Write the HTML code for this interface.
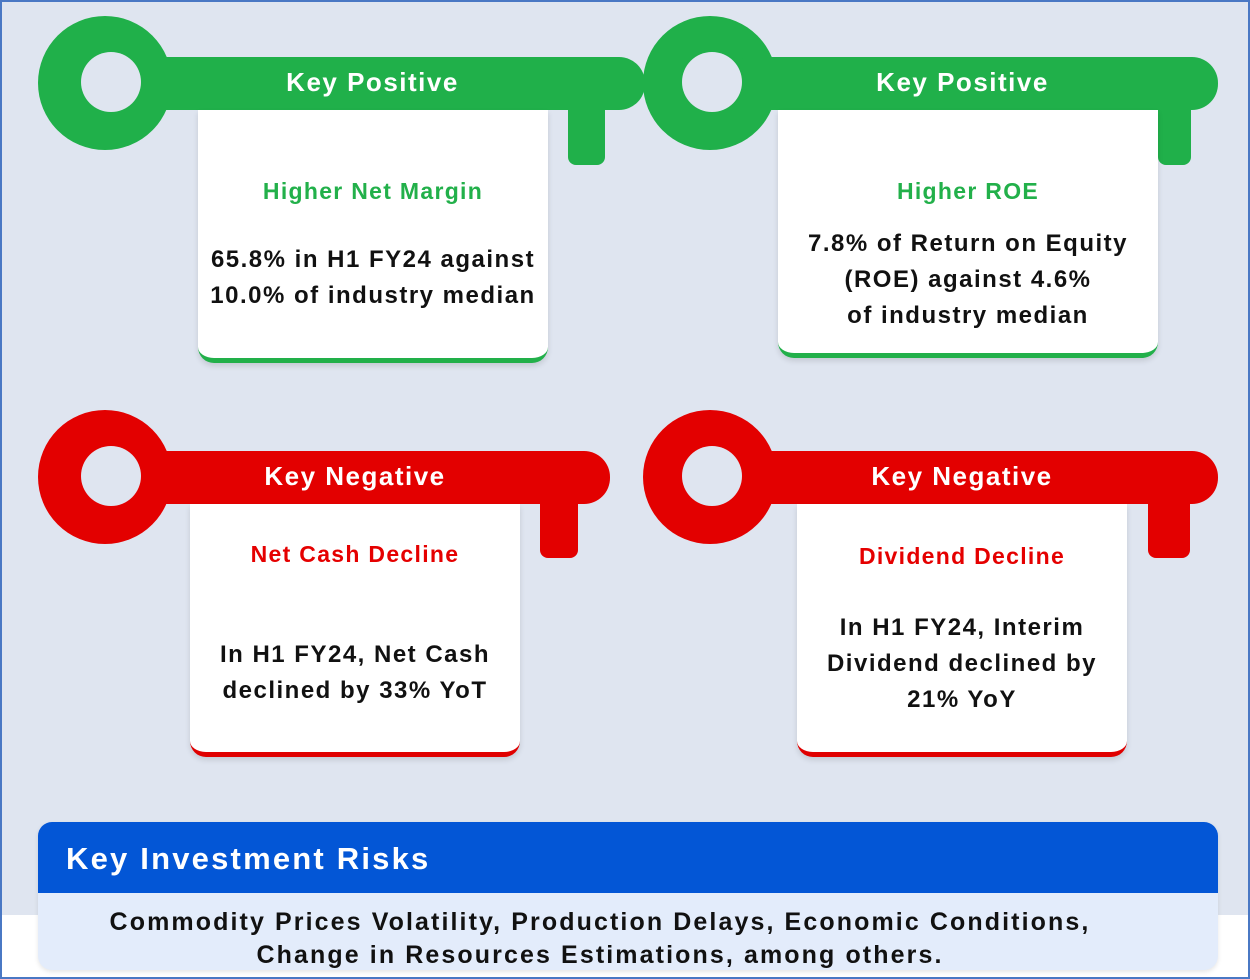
<!DOCTYPE html>
<html><head><meta charset="utf-8"><style>
*{margin:0;padding:0;box-sizing:border-box}
body{width:1250px;height:979px;position:relative;overflow:hidden;background:#fff;font-family:"Liberation Sans",sans-serif}
#bg{position:absolute;left:0;top:0;width:1250px;height:915px;background:#dfe5f0}
#frame{position:absolute;left:0;top:0;width:1250px;height:979px;border:2px solid #4a78c4;pointer-events:none}
.abs{position:absolute}
.card{position:absolute;background:#fff;border-radius:0 0 16px 16px;text-align:center;box-shadow:0 3px 6px rgba(0,0,0,.12)}
.card.g{border-bottom:5px solid #22b04a}.card.r{border-bottom:5px solid #e00000}
.h{font-size:23px;font-weight:bold;position:absolute;left:-20px;right:-20px;letter-spacing:1.3px}
.g .h{color:#22b04a}.r .h{color:#e50000}
.b{font-size:24px;font-weight:bold;color:#111;line-height:36px;position:absolute;left:-20px;right:-20px;letter-spacing:1.5px}
.title{position:absolute;color:#fff;font-weight:bold;font-size:26px;text-align:center;letter-spacing:1.5px}
</style></head><body>
<div id="bg"></div>
<svg class="abs" style="left:0;top:0" width="1250" height="979">
<g fill="#20b04a">
<circle cx="105" cy="83" r="67"/>
<rect x="120" y="57" width="525" height="53" rx="26"/>
<rect x="568" y="90" width="37" height="75" rx="8"/>
<circle cx="710" cy="83" r="67"/>
<rect x="725" y="57" width="493" height="53" rx="26"/>
<rect x="1158" y="90" width="33" height="75" rx="8"/>
</g>
<g fill="#e30000">
<circle cx="105" cy="477" r="67"/>
<rect x="120" y="451" width="490" height="53" rx="26"/>
<rect x="540" y="484" width="38" height="74" rx="8"/>
<circle cx="710" cy="477" r="67"/>
<rect x="725" y="451" width="493" height="53" rx="26"/>
<rect x="1148" y="484" width="42" height="74" rx="8"/>
</g>
<g fill="#dfe5f0">
<circle cx="111" cy="82" r="30"/><circle cx="712" cy="82" r="30"/>
<circle cx="111" cy="476" r="30"/><circle cx="712" cy="476" r="30"/>
</g>
</svg>
<div class="title" style="left:200px;width:345px;top:67px">Key Positive</div>
<div class="title" style="left:780px;width:365px;top:67px">Key Positive</div>
<div class="title" style="left:190px;width:330px;top:461px">Key Negative</div>
<div class="title" style="left:797px;width:330px;top:461px">Key Negative</div>

<div class="card g" style="left:198px;top:110px;width:350px;height:253px">
<div class="h" style="top:68px">Higher Net Margin</div>
<div class="b" style="top:132px">65.8% in H1 FY24 against<br>10.0% of industry median</div></div>
<div class="card g" style="left:778px;top:110px;width:380px;height:248px">
<div class="h" style="top:68px">Higher ROE</div>
<div class="b" style="top:116px">7.8% of Return on Equity<br>(ROE) against 4.6%<br>of industry median</div></div>
<div class="card r" style="left:190px;top:504px;width:330px;height:253px">
<div class="h" style="top:37px">Net Cash Decline</div>
<div class="b" style="top:133px">In H1 FY24, Net Cash<br>declined by 33% YoT</div></div>
<div class="card r" style="left:797px;top:504px;width:330px;height:253px">
<div class="h" style="top:39px">Dividend Decline</div>
<div class="b" style="top:106px">In H1 FY24, Interim<br>Dividend declined by<br>21% YoY</div></div>

<div class="abs" style="left:38px;top:822px;width:1180px;height:148px;border-radius:14px;overflow:hidden;background:#e3ecfb;box-shadow:0 2px 5px rgba(0,0,0,.1)">
<div style="height:71px;background:#0356d6;color:#fff;font-size:31px;font-weight:bold;padding:19px 0 0 28px;letter-spacing:2.2px">Key Investment Risks</div>
<div style="text-align:center;font-size:25px;font-weight:bold;color:#111;line-height:33px;padding-top:13px;padding-right:56px;letter-spacing:2.1px;white-space:nowrap">Commodity Prices Volatility, Production Delays, Economic Conditions,<br>Change in Resources Estimations, among others.</div>
</div>
<div id="frame"></div>
</body></html>
